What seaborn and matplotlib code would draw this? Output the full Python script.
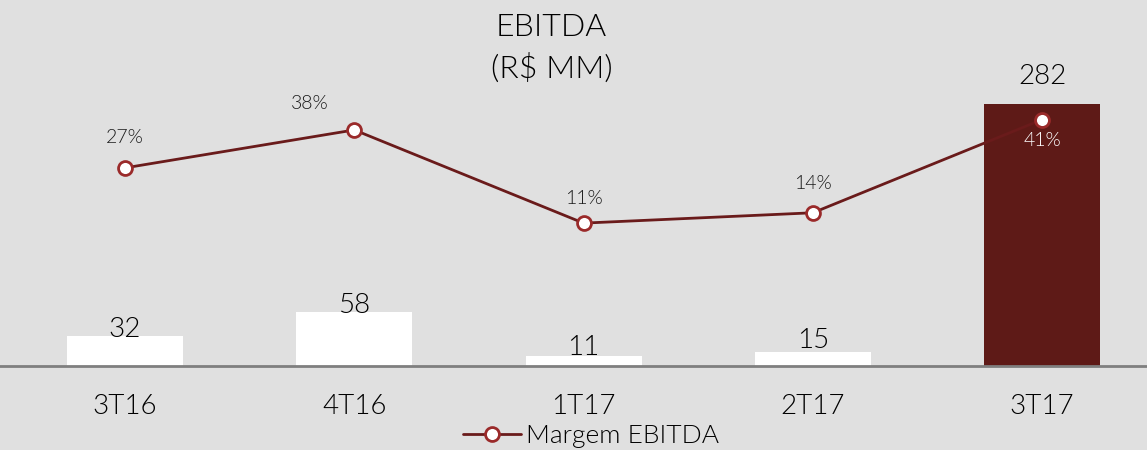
import matplotlib
matplotlib.use("Agg")
import matplotlib.pyplot as plt
import seaborn as sns
import numpy as np
import pandas as pd

categories = ["3T16", "4T16", "1T17", "2T17", "3T17"]
ebitda = [32, 58, 11, 15, 282]
margem = [27, 38, 11, 14, 41]
margem_labels = ["27%", "38%", "11%", "14%", "41%"]

# label styling offsets (points)
bar_label_dy = [5, 5, 6, 8, 20]
pct_label_off = [(0, 22), (-32, 19), (0, 18), (0, 21), (0, -15)]
pct_label_colors = ["#1a1a1a", "#1a1a1a", "#1a1a1a", "#1a1a1a", "white"]

bg = "#e0e0e0"
dark_red = "#5e1a17"
line_red = "#6a1b1b"
edge_red = "#9a2a2a"
bar_colors = ["white", "white", "white", "white", dark_red]

sns.set_theme(style="white")
plt.rcParams["font.family"] = ["Lato", "DejaVu Sans"]
plt.rcParams["font.weight"] = 300

fig = plt.figure(figsize=(11.47, 4.5), dpi=100, facecolor=bg)
ax = fig.add_axes([0, 1 - 366 / 450, 1, 366 / 450])
ax.set_facecolor(bg)

df = pd.DataFrame({"cat": categories, "ebitda": ebitda, "margem": margem})
sns.barplot(data=df, x="cat", y="ebitda", hue="cat", palette=bar_colors,
            order=categories, hue_order=categories, legend=False,
            width=0.506, saturation=1, linewidth=0, ax=ax)
ax.set_xlim(-0.545, 4.457)
ax.set_ylim(0, 394)

for i, (v, dy) in enumerate(zip(ebitda, bar_label_dy)):
    ax.annotate(str(v), (i, v), xytext=(0, dy), textcoords="offset points",
                ha="center", va="center", fontsize=20, color="#000000")

ax2 = ax.twinx()
ax2.set_ylim(-30.4, 75.65)
xpos = np.arange(len(categories))
sns.lineplot(x=xpos, y=margem, sort=False, ax=ax2, color=line_red, linewidth=2,
             marker="o", markersize=10, markerfacecolor="white",
             markeredgecolor=edge_red, markeredgewidth=2, label="Margem EBITDA")

for i, (v, t, off, c) in enumerate(zip(margem, margem_labels, pct_label_off, pct_label_colors)):
    ax2.annotate(t, (i, v), xytext=off, textcoords="offset points",
                 ha="center", va="center", fontsize=14, color=c)

for a in (ax, ax2):
    for s in ["top", "right", "left"]:
        a.spines[s].set_visible(False)
    a.set_yticks([])
    a.set_ylabel("")
    a.set_xlabel("")
ax2.spines["bottom"].set_visible(False)
ax.spines["bottom"].set_color("#7f7f7f")
ax.spines["bottom"].set_linewidth(2)
ax.tick_params(axis="x", length=0, pad=20, labelsize=20, labelcolor="#000000")

leg = ax2.legend(loc="center", bbox_to_anchor=(0.515, 14 / 450),
                 bbox_transform=fig.transFigure, frameon=False,
                 fontsize=19, handlelength=2.2, handletextpad=0.2)
for t in leg.get_texts():
    t.set_color("#000000")

fig.text(0.481, 1 - 48.5 / 450, "EBITDA\n(R$ MM)", ha="center", va="center",
         fontsize=23, linespacing=1.5, color="#000000")

fig.savefig("out.png", dpi=100, facecolor=bg)
